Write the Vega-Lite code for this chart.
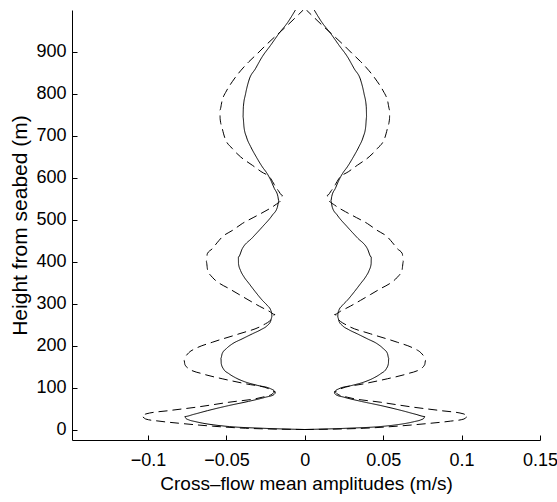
{
  "$schema": "https://vega.github.io/schema/vega-lite/v6.json",
  "width": 468,
  "height": 430,
  "autosize": "none",
  "padding": {"left": 72, "top": 10, "right": 17, "bottom": 62},
  "background": "white",
  "config": {"view": {"stroke": null}, "font": "Liberation Sans"},
  "data": {"values": [
    {"branch":"solid-R","type":"solid","h":0,"u":0},{"branch":"solid-R","type":"solid","h":3,"u":0.027},{"branch":"solid-R","type":"solid","h":7,"u":0.048},{"branch":"solid-R","type":"solid","h":11,"u":0.058},{"branch":"solid-R","type":"solid","h":15,"u":0.065},{"branch":"solid-R","type":"solid","h":19,"u":0.070},{"branch":"solid-R","type":"solid","h":23,"u":0.074},{"branch":"solid-R","type":"solid","h":27,"u":0.076},{"branch":"solid-R","type":"solid","h":31,"u":0.0765},{"branch":"solid-R","type":"solid","h":36,"u":0.071},{"branch":"solid-R","type":"solid","h":45,"u":0.062},{"branch":"solid-R","type":"solid","h":57,"u":0.0486},{"branch":"solid-R","type":"solid","h":67,"u":0.036},{"branch":"solid-R","type":"solid","h":77,"u":0.025},{"branch":"solid-R","type":"solid","h":83,"u":0.0198},{"branch":"solid-R","type":"solid","h":87,"u":0.0187},{"branch":"solid-R","type":"solid","h":91,"u":0.0192},{"branch":"solid-R","type":"solid","h":97,"u":0.0217},{"branch":"solid-R","type":"solid","h":105,"u":0.030},{"branch":"solid-R","type":"solid","h":113,"u":0.0377},{"branch":"solid-R","type":"solid","h":123,"u":0.044},{"branch":"solid-R","type":"solid","h":133,"u":0.0484},{"branch":"solid-R","type":"solid","h":145,"u":0.052},{"branch":"solid-R","type":"solid","h":157,"u":0.0533},{"branch":"solid-R","type":"solid","h":170,"u":0.0535},{"branch":"solid-R","type":"solid","h":181,"u":0.0527},{"branch":"solid-R","type":"solid","h":193,"u":0.050},{"branch":"solid-R","type":"solid","h":204,"u":0.0463},{"branch":"solid-R","type":"solid","h":216,"u":0.040},{"branch":"solid-R","type":"solid","h":228,"u":0.0335},{"branch":"solid-R","type":"solid","h":238,"u":0.028},{"branch":"solid-R","type":"solid","h":248,"u":0.0239},{"branch":"solid-R","type":"solid","h":258,"u":0.0218},{"branch":"solid-R","type":"solid","h":268,"u":0.021},{"branch":"solid-R","type":"solid","h":276,"u":0.0211},{"branch":"solid-R","type":"solid","h":284,"u":0.0217},{"branch":"solid-R","type":"solid","h":296,"u":0.024},{"branch":"solid-R","type":"solid","h":308,"u":0.0271},{"branch":"solid-R","type":"solid","h":328,"u":0.0315},{"branch":"solid-R","type":"solid","h":348,"u":0.0356},{"branch":"solid-R","type":"solid","h":365,"u":0.039},{"branch":"solid-R","type":"solid","h":379,"u":0.041},{"branch":"solid-R","type":"solid","h":395,"u":0.0423},{"branch":"solid-R","type":"solid","h":411,"u":0.0424},{"branch":"solid-R","type":"solid","h":431,"u":0.0399},{"branch":"solid-R","type":"solid","h":457,"u":0.0335},{"branch":"solid-R","type":"solid","h":483,"u":0.0271},{"branch":"solid-R","type":"solid","h":511,"u":0.0207},{"branch":"solid-R","type":"solid","h":530,"u":0.0175},{"branch":"solid-R","type":"solid","h":545,"u":0.0166},{"branch":"solid-R","type":"solid","h":556,"u":0.0172},{"branch":"solid-R","type":"solid","h":575,"u":0.0195},{"branch":"solid-R","type":"solid","h":594,"u":0.0217},{"branch":"solid-R","type":"solid","h":610,"u":0.024},{"branch":"solid-R","type":"solid","h":626,"u":0.0271},{"branch":"solid-R","type":"solid","h":650,"u":0.031},{"branch":"solid-R","type":"solid","h":674,"u":0.0345},{"branch":"solid-R","type":"solid","h":697,"u":0.0372},{"branch":"solid-R","type":"solid","h":721,"u":0.0388},{"branch":"solid-R","type":"solid","h":745,"u":0.0394},{"branch":"solid-R","type":"solid","h":769,"u":0.0392},{"branch":"solid-R","type":"solid","h":800,"u":0.0378},{"branch":"solid-R","type":"solid","h":833,"u":0.0356},{"branch":"solid-R","type":"solid","h":860,"u":0.0315},{"branch":"solid-R","type":"solid","h":889,"u":0.0271},{"branch":"solid-R","type":"solid","h":915,"u":0.022},{"branch":"solid-R","type":"solid","h":944,"u":0.0165},{"branch":"solid-R","type":"solid","h":970,"u":0.011},{"branch":"solid-R","type":"solid","h":1000,"u":0.006},

    {"branch":"solid-L","type":"solid","h":0,"u":0},{"branch":"solid-L","type":"solid","h":3,"u":-0.027},{"branch":"solid-L","type":"solid","h":7,"u":-0.048},{"branch":"solid-L","type":"solid","h":11,"u":-0.058},{"branch":"solid-L","type":"solid","h":15,"u":-0.065},{"branch":"solid-L","type":"solid","h":19,"u":-0.070},{"branch":"solid-L","type":"solid","h":23,"u":-0.074},{"branch":"solid-L","type":"solid","h":27,"u":-0.076},{"branch":"solid-L","type":"solid","h":31,"u":-0.0765},{"branch":"solid-L","type":"solid","h":36,"u":-0.071},{"branch":"solid-L","type":"solid","h":45,"u":-0.062},{"branch":"solid-L","type":"solid","h":57,"u":-0.0486},{"branch":"solid-L","type":"solid","h":67,"u":-0.036},{"branch":"solid-L","type":"solid","h":77,"u":-0.025},{"branch":"solid-L","type":"solid","h":83,"u":-0.0198},{"branch":"solid-L","type":"solid","h":87,"u":-0.0187},{"branch":"solid-L","type":"solid","h":91,"u":-0.0192},{"branch":"solid-L","type":"solid","h":97,"u":-0.0217},{"branch":"solid-L","type":"solid","h":105,"u":-0.030},{"branch":"solid-L","type":"solid","h":113,"u":-0.0377},{"branch":"solid-L","type":"solid","h":123,"u":-0.044},{"branch":"solid-L","type":"solid","h":133,"u":-0.0484},{"branch":"solid-L","type":"solid","h":145,"u":-0.052},{"branch":"solid-L","type":"solid","h":157,"u":-0.0533},{"branch":"solid-L","type":"solid","h":170,"u":-0.0535},{"branch":"solid-L","type":"solid","h":181,"u":-0.0527},{"branch":"solid-L","type":"solid","h":193,"u":-0.050},{"branch":"solid-L","type":"solid","h":204,"u":-0.0463},{"branch":"solid-L","type":"solid","h":216,"u":-0.040},{"branch":"solid-L","type":"solid","h":228,"u":-0.0335},{"branch":"solid-L","type":"solid","h":238,"u":-0.028},{"branch":"solid-L","type":"solid","h":248,"u":-0.0239},{"branch":"solid-L","type":"solid","h":258,"u":-0.0218},{"branch":"solid-L","type":"solid","h":268,"u":-0.021},{"branch":"solid-L","type":"solid","h":276,"u":-0.0211},{"branch":"solid-L","type":"solid","h":284,"u":-0.0217},{"branch":"solid-L","type":"solid","h":296,"u":-0.024},{"branch":"solid-L","type":"solid","h":308,"u":-0.0271},{"branch":"solid-L","type":"solid","h":328,"u":-0.0315},{"branch":"solid-L","type":"solid","h":348,"u":-0.0356},{"branch":"solid-L","type":"solid","h":365,"u":-0.039},{"branch":"solid-L","type":"solid","h":379,"u":-0.041},{"branch":"solid-L","type":"solid","h":395,"u":-0.0423},{"branch":"solid-L","type":"solid","h":411,"u":-0.0424},{"branch":"solid-L","type":"solid","h":431,"u":-0.0399},{"branch":"solid-L","type":"solid","h":457,"u":-0.0335},{"branch":"solid-L","type":"solid","h":483,"u":-0.0271},{"branch":"solid-L","type":"solid","h":511,"u":-0.0207},{"branch":"solid-L","type":"solid","h":530,"u":-0.0175},{"branch":"solid-L","type":"solid","h":545,"u":-0.0166},{"branch":"solid-L","type":"solid","h":556,"u":-0.0172},{"branch":"solid-L","type":"solid","h":575,"u":-0.0195},{"branch":"solid-L","type":"solid","h":594,"u":-0.0217},{"branch":"solid-L","type":"solid","h":610,"u":-0.024},{"branch":"solid-L","type":"solid","h":626,"u":-0.0271},{"branch":"solid-L","type":"solid","h":650,"u":-0.031},{"branch":"solid-L","type":"solid","h":674,"u":-0.0345},{"branch":"solid-L","type":"solid","h":697,"u":-0.0372},{"branch":"solid-L","type":"solid","h":721,"u":-0.0388},{"branch":"solid-L","type":"solid","h":745,"u":-0.0394},{"branch":"solid-L","type":"solid","h":769,"u":-0.0392},{"branch":"solid-L","type":"solid","h":800,"u":-0.0378},{"branch":"solid-L","type":"solid","h":833,"u":-0.0356},{"branch":"solid-L","type":"solid","h":860,"u":-0.0315},{"branch":"solid-L","type":"solid","h":889,"u":-0.0271},{"branch":"solid-L","type":"solid","h":915,"u":-0.022},{"branch":"solid-L","type":"solid","h":944,"u":-0.0165},{"branch":"solid-L","type":"solid","h":970,"u":-0.011},{"branch":"solid-L","type":"solid","h":1000,"u":-0.006},

    {"branch":"dashed-R","type":"dashed","h":0,"u":0},{"branch":"dashed-R","type":"dashed","h":3,"u":0.0377},{"branch":"dashed-R","type":"dashed","h":8,"u":0.059},{"branch":"dashed-R","type":"dashed","h":15,"u":0.0804},{"branch":"dashed-R","type":"dashed","h":20,"u":0.093},{"branch":"dashed-R","type":"dashed","h":25,"u":0.1015},{"branch":"dashed-R","type":"dashed","h":31,"u":0.104},{"branch":"dashed-R","type":"dashed","h":37,"u":0.1015},{"branch":"dashed-R","type":"dashed","h":45,"u":0.0868},{"branch":"dashed-R","type":"dashed","h":53,"u":0.0697},{"branch":"dashed-R","type":"dashed","h":65,"u":0.0484},{"branch":"dashed-R","type":"dashed","h":77,"u":0.0271},{"branch":"dashed-R","type":"dashed","h":84,"u":0.021},{"branch":"dashed-R","type":"dashed","h":90,"u":0.019},{"branch":"dashed-R","type":"dashed","h":97,"u":0.0228},{"branch":"dashed-R","type":"dashed","h":109,"u":0.0377},{"branch":"dashed-R","type":"dashed","h":121,"u":0.0527},{"branch":"dashed-R","type":"dashed","h":133,"u":0.0655},{"branch":"dashed-R","type":"dashed","h":145,"u":0.074},{"branch":"dashed-R","type":"dashed","h":155,"u":0.0765},{"branch":"dashed-R","type":"dashed","h":165,"u":0.077},{"branch":"dashed-R","type":"dashed","h":173,"u":0.0761},{"branch":"dashed-R","type":"dashed","h":183,"u":0.074},{"branch":"dashed-R","type":"dashed","h":193,"u":0.0697},{"branch":"dashed-R","type":"dashed","h":208,"u":0.059},{"branch":"dashed-R","type":"dashed","h":228,"u":0.042},{"branch":"dashed-R","type":"dashed","h":248,"u":0.0271},{"branch":"dashed-R","type":"dashed","h":262,"u":0.0215},{"branch":"dashed-R","type":"dashed","h":274,"u":0.019},{"branch":"dashed-R","type":"dashed","h":282,"u":0.0228},{"branch":"dashed-R","type":"dashed","h":294,"u":0.029},{"branch":"dashed-R","type":"dashed","h":308,"u":0.0356},{"branch":"dashed-R","type":"dashed","h":322,"u":0.042},{"branch":"dashed-R","type":"dashed","h":336,"u":0.0484},{"branch":"dashed-R","type":"dashed","h":350,"u":0.055},{"branch":"dashed-R","type":"dashed","h":363,"u":0.059},{"branch":"dashed-R","type":"dashed","h":380,"u":0.062},{"branch":"dashed-R","type":"dashed","h":400,"u":0.0628},{"branch":"dashed-R","type":"dashed","h":419,"u":0.0622},{"branch":"dashed-R","type":"dashed","h":431,"u":0.059},{"branch":"dashed-R","type":"dashed","h":445,"u":0.056},{"branch":"dashed-R","type":"dashed","h":459,"u":0.0527},{"branch":"dashed-R","type":"dashed","h":475,"u":0.046},{"branch":"dashed-R","type":"dashed","h":491,"u":0.0399},{"branch":"dashed-R","type":"dashed","h":505,"u":0.033},{"branch":"dashed-R","type":"dashed","h":519,"u":0.026},{"branch":"dashed-R","type":"dashed","h":535,"u":0.019},{"branch":"dashed-R","type":"dashed","h":548,"u":0.015},{"branch":"dashed-R","type":"dashed","h":558,"u":0.0143},{"branch":"dashed-R","type":"dashed","h":570,"u":0.017},{"branch":"dashed-R","type":"dashed","h":584,"u":0.0195},{"branch":"dashed-R","type":"dashed","h":598,"u":0.0217},{"branch":"dashed-R","type":"dashed","h":615,"u":0.028},{"branch":"dashed-R","type":"dashed","h":630,"u":0.0335},{"branch":"dashed-R","type":"dashed","h":650,"u":0.041},{"branch":"dashed-R","type":"dashed","h":670,"u":0.0463},{"branch":"dashed-R","type":"dashed","h":695,"u":0.051},{"branch":"dashed-R","type":"dashed","h":718,"u":0.0527},{"branch":"dashed-R","type":"dashed","h":740,"u":0.054},{"branch":"dashed-R","type":"dashed","h":761,"u":0.0542},{"branch":"dashed-R","type":"dashed","h":785,"u":0.0527},{"branch":"dashed-R","type":"dashed","h":807,"u":0.05},{"branch":"dashed-R","type":"dashed","h":829,"u":0.0463},{"branch":"dashed-R","type":"dashed","h":855,"u":0.041},{"branch":"dashed-R","type":"dashed","h":877,"u":0.0356},{"branch":"dashed-R","type":"dashed","h":897,"u":0.03},{"branch":"dashed-R","type":"dashed","h":916,"u":0.0249},{"branch":"dashed-R","type":"dashed","h":940,"u":0.018},{"branch":"dashed-R","type":"dashed","h":960,"u":0.0121},{"branch":"dashed-R","type":"dashed","h":980,"u":0.0065},{"branch":"dashed-R","type":"dashed","h":1000,"u":0.001},

    {"branch":"dashed-L","type":"dashed","h":0,"u":0},{"branch":"dashed-L","type":"dashed","h":3,"u":-0.0377},{"branch":"dashed-L","type":"dashed","h":8,"u":-0.059},{"branch":"dashed-L","type":"dashed","h":15,"u":-0.0804},{"branch":"dashed-L","type":"dashed","h":20,"u":-0.093},{"branch":"dashed-L","type":"dashed","h":25,"u":-0.1015},{"branch":"dashed-L","type":"dashed","h":31,"u":-0.104},{"branch":"dashed-L","type":"dashed","h":37,"u":-0.1015},{"branch":"dashed-L","type":"dashed","h":45,"u":-0.0868},{"branch":"dashed-L","type":"dashed","h":53,"u":-0.0697},{"branch":"dashed-L","type":"dashed","h":65,"u":-0.0484},{"branch":"dashed-L","type":"dashed","h":77,"u":-0.0271},{"branch":"dashed-L","type":"dashed","h":84,"u":-0.021},{"branch":"dashed-L","type":"dashed","h":90,"u":-0.019},{"branch":"dashed-L","type":"dashed","h":97,"u":-0.0228},{"branch":"dashed-L","type":"dashed","h":109,"u":-0.0377},{"branch":"dashed-L","type":"dashed","h":121,"u":-0.0527},{"branch":"dashed-L","type":"dashed","h":133,"u":-0.0655},{"branch":"dashed-L","type":"dashed","h":145,"u":-0.074},{"branch":"dashed-L","type":"dashed","h":155,"u":-0.0765},{"branch":"dashed-L","type":"dashed","h":165,"u":-0.077},{"branch":"dashed-L","type":"dashed","h":173,"u":-0.0761},{"branch":"dashed-L","type":"dashed","h":183,"u":-0.074},{"branch":"dashed-L","type":"dashed","h":193,"u":-0.0697},{"branch":"dashed-L","type":"dashed","h":208,"u":-0.059},{"branch":"dashed-L","type":"dashed","h":228,"u":-0.042},{"branch":"dashed-L","type":"dashed","h":248,"u":-0.0271},{"branch":"dashed-L","type":"dashed","h":262,"u":-0.0215},{"branch":"dashed-L","type":"dashed","h":274,"u":-0.019},{"branch":"dashed-L","type":"dashed","h":282,"u":-0.0228},{"branch":"dashed-L","type":"dashed","h":294,"u":-0.029},{"branch":"dashed-L","type":"dashed","h":308,"u":-0.0356},{"branch":"dashed-L","type":"dashed","h":322,"u":-0.042},{"branch":"dashed-L","type":"dashed","h":336,"u":-0.0484},{"branch":"dashed-L","type":"dashed","h":350,"u":-0.055},{"branch":"dashed-L","type":"dashed","h":363,"u":-0.059},{"branch":"dashed-L","type":"dashed","h":380,"u":-0.062},{"branch":"dashed-L","type":"dashed","h":400,"u":-0.0628},{"branch":"dashed-L","type":"dashed","h":419,"u":-0.0622},{"branch":"dashed-L","type":"dashed","h":431,"u":-0.059},{"branch":"dashed-L","type":"dashed","h":445,"u":-0.056},{"branch":"dashed-L","type":"dashed","h":459,"u":-0.0527},{"branch":"dashed-L","type":"dashed","h":475,"u":-0.046},{"branch":"dashed-L","type":"dashed","h":491,"u":-0.0399},{"branch":"dashed-L","type":"dashed","h":505,"u":-0.033},{"branch":"dashed-L","type":"dashed","h":519,"u":-0.026},{"branch":"dashed-L","type":"dashed","h":535,"u":-0.019},{"branch":"dashed-L","type":"dashed","h":548,"u":-0.015},{"branch":"dashed-L","type":"dashed","h":558,"u":-0.0143},{"branch":"dashed-L","type":"dashed","h":570,"u":-0.017},{"branch":"dashed-L","type":"dashed","h":584,"u":-0.0195},{"branch":"dashed-L","type":"dashed","h":598,"u":-0.0217},{"branch":"dashed-L","type":"dashed","h":615,"u":-0.028},{"branch":"dashed-L","type":"dashed","h":630,"u":-0.0335},{"branch":"dashed-L","type":"dashed","h":650,"u":-0.041},{"branch":"dashed-L","type":"dashed","h":670,"u":-0.0463},{"branch":"dashed-L","type":"dashed","h":695,"u":-0.051},{"branch":"dashed-L","type":"dashed","h":718,"u":-0.0527},{"branch":"dashed-L","type":"dashed","h":740,"u":-0.054},{"branch":"dashed-L","type":"dashed","h":761,"u":-0.0542},{"branch":"dashed-L","type":"dashed","h":785,"u":-0.0527},{"branch":"dashed-L","type":"dashed","h":807,"u":-0.05},{"branch":"dashed-L","type":"dashed","h":829,"u":-0.0463},{"branch":"dashed-L","type":"dashed","h":855,"u":-0.041},{"branch":"dashed-L","type":"dashed","h":877,"u":-0.0356},{"branch":"dashed-L","type":"dashed","h":897,"u":-0.03},{"branch":"dashed-L","type":"dashed","h":916,"u":-0.0249},{"branch":"dashed-L","type":"dashed","h":940,"u":-0.018},{"branch":"dashed-L","type":"dashed","h":960,"u":-0.0121},{"branch":"dashed-L","type":"dashed","h":980,"u":-0.0065},{"branch":"dashed-L","type":"dashed","h":1000,"u":-0.001}
  ]},
  "mark": {"type": "line", "interpolate": "monotone", "strokeWidth": 1, "color": "black", "clip": true},
  "encoding": {
    "x": {
      "field": "u", "type": "quantitative",
      "scale": {"domain": [-0.1485, 0.15], "nice": false, "zero": false},
      "axis": {
        "values": [-0.1, -0.05, 0, 0.05, 0.1, 0.15],
        "format": ".2~f",
        "labelFlush": false,
        "labelBound": false,
        "labelOverlap": false,
        "title": "Cross\u2013flow mean amplitudes (m/s)",
        "grid": false,
        "domainColor": "black", "tickColor": "black",
        "tickSize": -5,
        "labelFontSize": 18, "labelColor": "black", "labelPadding": 16,
        "titleFontSize": 19, "titleFontWeight": "normal", "titleColor": "black",
        "titleBaseline": "alphabetic", "titleY": 49
      }
    },
    "y": {
      "field": "h", "type": "quantitative",
      "scale": {"domain": [-25, 1000], "nice": false, "zero": false},
      "axis": {
        "values": [0, 100, 200, 300, 400, 500, 600, 700, 800, 900],
        "labelFlush": false,
        "labelOverlap": false,
        "title": "Height from seabed (m)",
        "grid": false,
        "domainColor": "black", "tickColor": "black",
        "tickSize": -5,
        "labelFontSize": 18, "labelColor": "black", "labelPadding": 11,
        "titleFontSize": 21, "titleFontWeight": "normal", "titleColor": "black",
        "titleAngle": -90, "titleAlign": "center", "titleBaseline": "alphabetic",
        "titleX": -46, "titleY": 215
      }
    },
    "order": {"field": "h", "type": "quantitative"},
    "detail": {"field": "branch"},
    "strokeDash": {
      "field": "type", "type": "nominal",
      "scale": {"domain": ["solid", "dashed"], "range": [[1, 0], [9, 5]]},
      "legend": null
    }
  }
}
